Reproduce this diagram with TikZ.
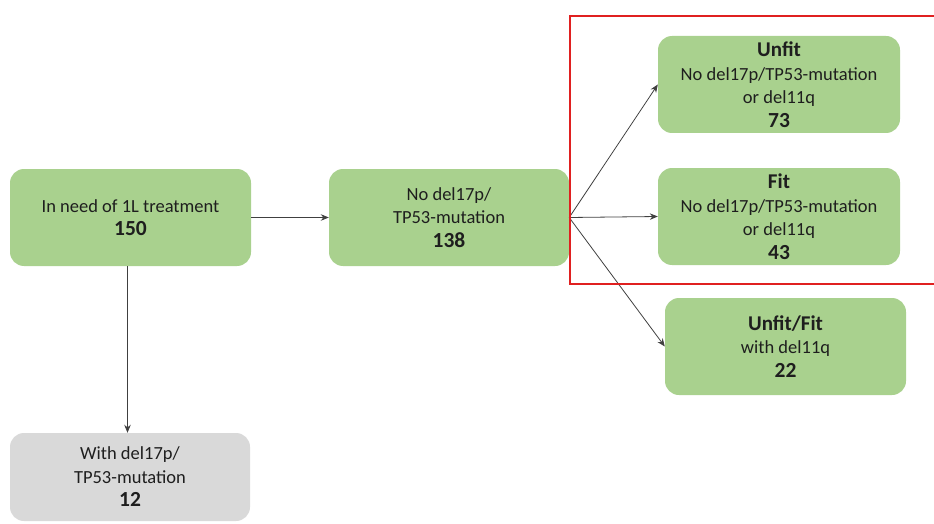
\documentclass[tikz,border=0pt]{standalone}
\usepackage{fontspec}
\setmainfont{Carlito}
\usetikzlibrary{arrows.meta}
\definecolor{boxgreen}{HTML}{A9D18E}
\definecolor{boxgray}{HTML}{D9D9D9}
\definecolor{txt}{HTML}{1E1E1E}
\definecolor{redline}{HTML}{E02020}
\tikzset{
  flowbox/.style={draw=none, fill=boxgreen, rounded corners=14pt, align=center,
    text=txt, font=\fontsize{18.5}{23.5}\selectfont, inner sep=0pt},
  graybox/.style={flowbox, fill=boxgray},
  conn/.style={draw=black!75, line width=0.8pt, -{Stealth[length=8pt,width=6.5pt]}},
}
\newcommand{\numtxt}[1]{{\fontsize{21.5}{24}\selectfont\bfseries #1}}
\newcommand{\ttl}[1]{{\fontsize{21}{23.5}\selectfont\bfseries #1}}
\begin{document}
\begin{tikzpicture}[x=1pt,y=-1pt]
  \useasboundingbox (0,0) rectangle (934,524);
  \node[flowbox, minimum width=241pt, minimum height=97pt] (A) at (130.5,217.5)
    {In need of 1L treatment\\\numtxt{150}};
  \node[flowbox, minimum width=240pt, minimum height=97pt] (B) at (449,217.5)
    {No del17p/\\TP53-mutation\\\numtxt{138}};
  \node[flowbox, minimum width=242pt, minimum height=97pt] (U) at (779,84.5)
    {\ttl{Unfit}\\No del17p/TP53-mutation\\or del11q\\\numtxt{73}};
  \node[flowbox, minimum width=242pt, minimum height=97pt] (F) at (779,216.5)
    {\ttl{Fit}\\No del17p/TP53-mutation\\or del11q\\\numtxt{43}};
  \node[flowbox, minimum width=241pt, minimum height=97pt] (W) at (785.5,346.5)
    {\ttl{Unfit/Fit}\\with del11q\\\numtxt{22}};
  \node[graybox, minimum width=240pt, minimum height=88pt] (G) at (130,477)
    {With del17p/\\TP53-mutation\\\numtxt{12}};
  \coordinate (fan) at (B.east);
  \coordinate (down) at ([xshift=-3pt]A.south);
  \draw[conn] (A.east) -- (B.west);
  \draw[conn] (down) -- (down |- G.north);
  \draw[conn] (fan) -- (U.west);
  \draw[conn] (fan) -- (F.west);
  \draw[conn] (fan) -- (W.west);
  \node[draw=redline, line width=1.6pt, minimum width=365pt, minimum height=268pt, inner sep=0pt, anchor=north west] (R) at (569,15) {};
\end{tikzpicture}
\end{document}
